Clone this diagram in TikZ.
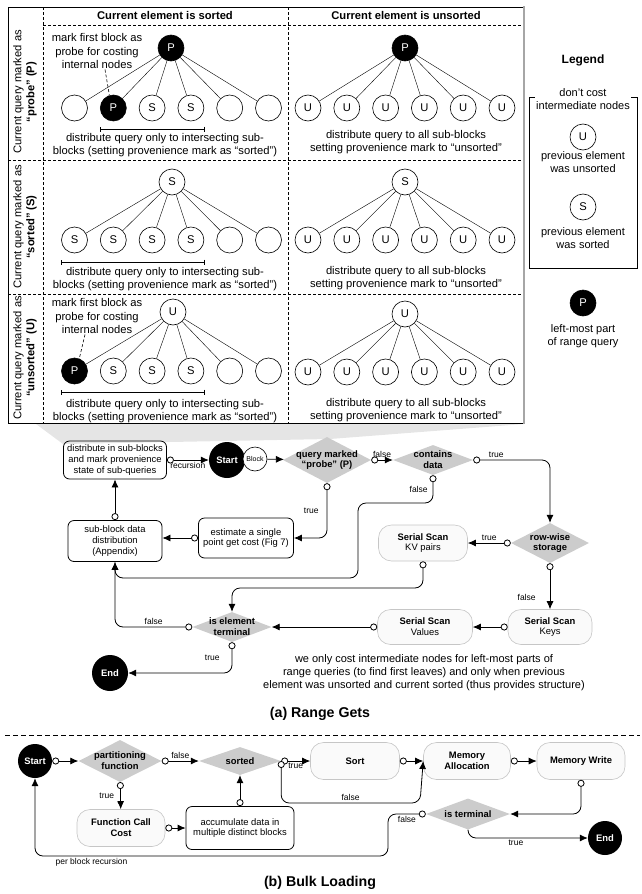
\documentclass[tikz,border=0pt]{standalone}
\usepackage{fontspec}
\setmainfont{Liberation Sans}
\usetikzlibrary{arrows.meta,shapes.geometric,calc}

\newcommand{\tabfont}{\fontsize{11.2}{13.2}\selectfont}
\newcommand{\legfont}{\fontsize{11}{13}\selectfont}
\newcommand{\flowfont}{\fontsize{9.4}{10.8}\selectfont}
\newcommand{\labfont}{\fontsize{8.5}{10}\selectfont}

\begin{document}
\begin{tikzpicture}[
  x=1pt, y=-1pt,
  >={Latex[length=8pt,width=7pt]},
  cell/.style={font=\tabfont, align=center, inner sep=1pt},
  head/.style={font=\tabfont\bfseries, inner sep=1pt},
  sep/.style={dash pattern=on 3pt off 2pt, line width=0.6pt},
  blk/.style={circle, draw, fill=white, line width=0.6pt, minimum size=26pt,
    inner sep=0pt, font=\tabfont},
  blkp/.style={blk, fill=black, text=white},
  span/.style={{Bar[width=5pt]}-{Bar[width=5pt]}, line width=0.6pt},
  box/.style={draw, rounded corners=6pt, line width=0.8pt, align=center,
    font=\flowfont, inner sep=1pt},
  pill/.style={draw=gray!45, fill=gray!4, rounded corners=13pt, line width=0.6pt,
    align=center, font=\flowfont, inner sep=1pt},
  dec/.style={diamond, fill=gray!40, inner sep=0pt},
  dtext/.style={font=\flowfont\bfseries, align=center, inner sep=0pt},
  term/.style={circle, fill=black, text=white, font=\flowfont\bfseries,
    minimum size=36pt, inner sep=0pt},
  lab/.style={font=\labfont, inner sep=2pt},
  arr/.style={->, line width=0.8pt, rounded corners=8pt},
  oarr/.style={{Circle[length=7pt,width=7pt,fill=white]}->, line width=0.8pt,
    rounded corners=8pt},
  title/.style={font=\fontsize{14.2}{16}\selectfont\bfseries}
]
\useasboundingbox (0,0) rectangle (641,894);

% callout below the table
\fill[gray!20] (36,424) -- (524,424) -- (330,439) -- (63,444) -- cycle;

% table frame
\draw[sep] (43,7) -- (43,423);
\draw[sep] (288,7) -- (288,423);
\draw[sep] (43,25) -- (524,25);
\draw[sep] (8,160) -- (524,160);
\draw[sep] (8,294) -- (524,294);
\draw[line width=0.8pt] (8,7) rectangle (524,423);
\draw[line width=1.8pt, gray!70] (524,6) -- (524,424);

\node[head] (hs) at (165,15) {Current element is sorted};
\node[head] (hu) at (406,15) {Current element is unsorted};
\node[cell, rotate=90] (rp) at (25,92) {Current query marked as\\\textbf{“probe” (P)}};
\node[cell, rotate=90] (rs) at (25,227) {Current query marked as\\\textbf{“sorted” (S)}};
\node[cell, rotate=90] (ru) at (25,358) {Current query marked as\\\textbf{“unsorted” (U)}};

% probe row
\node[blkp] (pa) at (171,48) {P};
\foreach \i/\s/\t in {0/blk/{},1/blkp/P,2/blk/S,3/blk/S,4/blk/{},5/blk/{}}
  \node[\s] (pa\i) at (74.5+38.8*\i,108) {\t} edge (pa);
\node[blkp] (pb) at (405,48) {P};
\foreach \i in {0,...,5}
  \node[blk] (pb\i) at (308+38.8*\i,108) {U} edge (pb);
\node[cell] (mk1) at (97,51) {mark first block as\\probe for costing\\internal nodes};
\draw[densely dashed, line width=0.6pt] ([xshift=8pt]mk1.south) -- ([xshift=-4pt]pa1.north);
\draw[span] (pa1.west |- 0,129) -- (pa3.east |- 0,129);
\node[cell] (da1) at (165,145) {distribute query only to intersecting sub-\\blocks (setting provenience mark as “sorted”)};
\node[cell] (db1) at (406,142) {distribute query to all sub-blocks\\setting provenience mark to “unsorted”};

% sorted row
\node[blk] (sa) at (172,182) {S};
\foreach \i/\t in {0/S,1/S,2/S,3/S,4/{},5/{}}
  \node[blk] (sa\i) at (74.5+38.8*\i,240) {\t} edge (sa);
\node[blk] (sb) at (405,182) {S};
\foreach \i in {0,...,5}
  \node[blk] (sb\i) at (308+38.8*\i,240) {U} edge (sb);
\draw[span] (sa0.west |- 0,262) -- (sa3.east |- 0,262);
\node[cell] (da2) at (165,279) {distribute query only to intersecting sub-\\blocks (setting provenience mark as “sorted”)};
\node[cell] (db2) at (406,278) {distribute query to all sub-blocks\\setting provenience mark to “unsorted”};

% unsorted row
\node[blk] (ua) at (173,312) {U};
\foreach \i/\s/\t in {0/blkp/P,1/blk/S,2/blk/S,3/blk/S,4/blk/{},5/blk/{}}
  \node[\s] (ua\i) at (74.5+38.8*\i,371) {\t} edge (ua);
\node[blk] (ub) at (405,314) {U};
\foreach \i in {0,...,5}
  \node[blk] (ub\i) at (308+38.8*\i,372) {U} edge (ub);
\node[cell] (mk3) at (97,316) {mark first block as\\probe for costing\\internal nodes};
\draw[densely dashed, line width=0.6pt] ([xshift=-12pt]mk3.south) -- ([xshift=5pt]ua0.north);
\draw[span] (ua0.west |- 0,392) -- (ua3.east |- 0,392);
\node[cell] (da3) at (165,411) {distribute query only to intersecting sub-\\blocks (setting provenience mark as “sorted”)};
\node[cell] (db3) at (406,410) {distribute query to all sub-blocks\\setting provenience mark to “unsorted”};

% legend
\node[head, font=\fontsize{12}{14}\selectfont\bfseries] (lg) at (583,60) {Legend};
\draw[line width=0.6pt] (529,97) rectangle (637,268);
\node[cell, font=\legfont, fill=white] (lgn) at (583,99) {don't cost\\intermediate nodes};
\node[blk] (lgu) at (583,137) {U};
\node[cell, font=\legfont] (lgut) at (583,162) {previous element\\was unsorted};
\node[blk] (lgs) at (583,207) {S};
\node[cell, font=\legfont] (lgst) at (583,238) {previous element\\was sorted};
\node[blkp] (lgp) at (583,303) {P};
\node[cell, font=\legfont] (lgpt) at (583,336) {left-most part\\of range query};

% (a) range gets
\node[box, minimum width=103pt, minimum height=38pt] (dist) at (115,460)
  {distribute in sub-blocks\\and mark provenience\\state of sub-queries};
\node[term] (st) at (227,460) {Start};
\node[circle, draw, fill=white, line width=0.6pt, minimum size=24pt, inner sep=0pt,
  font=\fontsize{7}{8}\selectfont] (blck) at (255,459) {Block};
\node[dec, minimum width=88pt, minimum height=46pt,
  label={[dtext]center:{query marked\\“probe” (P)}}] (qp) at (327,460) {};
\node[dec, minimum width=80pt, minimum height=30pt,
  label={[dtext]center:{contains\\data}}] (cd) at (433,460) {};
\node[dec, minimum width=78pt, minimum height=40pt,
  label={[dtext]center:{row-wise\\storage}}] (rw) at (550,543) {};
\node[pill, minimum width=89pt, minimum height=36pt] (kv) at (423,543)
  {\textbf{Serial Scan}\\KV pairs};
\node[box, minimum width=95pt, minimum height=40pt] (est) at (246,538)
  {estimate a single\\point get cost (Fig 7)};
\node[box, minimum width=94pt, minimum height=41pt] (sbd) at (115,541)
  {sub-block data\\distribution\\(Appendix)};
\node[dec, minimum width=79pt, minimum height=30pt,
  label={[dtext]center:{is element\\terminal}}] (iet) at (232,627) {};
\node[pill, minimum width=95pt, minimum height=35pt] (sv) at (425,627)
  {\textbf{Serial Scan}\\Values};
\node[pill, minimum width=84pt, minimum height=35pt] (sk) at (550,627)
  {\textbf{Serial Scan}\\Keys};
\node[term] (end) at (110,673) {End};
\node[cell, font=\fontsize{11}{13}\selectfont] (rem) at (424,673)
  {we only cost intermediate nodes for left-most parts of\\range queries (to find first leaves) and only when previous\\element was unsorted and current sorted (thus provides structure)};
\node[title] (ta) at (320,714) {(a) Range Gets};

\draw[oarr] (dist) -- node[lab, below] {recursion} (st);
\draw[arr] (blck) -- (qp);
\draw[oarr] (qp) -- node[lab, above] {false} (cd);
\draw[oarr] (cd.east) -| node[lab, above, pos=0.15] {true} (rw.north);
\draw[oarr] (rw.west) -- node[lab, above] {true} (kv.east);
\draw[oarr] (rw.south) -- node[lab, left=12pt, pos=0.75] {false} (sk.north);
\draw[oarr] (sk.west) -- (sv.east);
\draw[oarr] (sv.west) -- (iet.east);
\draw[oarr] (kv.south) |- (iet.north |- 0,588) -- (iet.north);
\draw[oarr] (cd.south) |- node[lab, left=3pt, pos=0.25] {false} (358,503)
  |- (sbd.south |- 0,578) -- (sbd.south);
\draw[oarr] (qp.south) |- node[lab, left=6pt, pos=0.25] {true} (est.east);
\draw[oarr] (est.west) -- (sbd.east |- est.west);
\draw[oarr] (sbd.north) -- (dist.south);
\draw[oarr] (iet.west) -| node[lab, above, pos=0.25] {false} (sbd.south);
\draw[oarr] (iet.south) |- node[lab, left=10pt, pos=0.25] {true} (end.east);

% (b) bulk loading
\draw[dash pattern=on 5pt off 3pt, line width=0.6pt] (5,735) -- (640,735);
\node[term, minimum size=34pt] (st2) at (35,761) {Start};
\node[dec, minimum width=83pt, minimum height=42pt,
  label={[dtext]center:{partitioning\\function}}] (pf) at (120,761) {};
\node[dec, minimum width=82pt, minimum height=28pt,
  label={[dtext]center:sorted}] (so) at (240,761) {};
\node[pill, minimum width=88pt, minimum height=37pt, font=\flowfont\bfseries] (fcc)
  at (121,828) {Function Call\\Cost};
\node[box, minimum width=108pt, minimum height=43pt] (acc) at (240,828)
  {accumulate data in\\multiple distinct blocks};
\node[pill, minimum width=89pt, minimum height=37pt, font=\flowfont\bfseries] (srt)
  at (355,761) {Sort};
\node[pill, minimum width=87pt, minimum height=37pt, font=\flowfont\bfseries] (ma)
  at (467,761) {Memory\\Allocation};
\node[pill, minimum width=88pt, minimum height=37pt, font=\flowfont\bfseries] (mw)
  at (581,761) {Memory Write};
\node[dec, minimum width=84pt, minimum height=31pt,
  label={[dtext]center:is terminal}] (it) at (468,814) {};
\node[term, minimum size=34pt] (end2) at (605,838) {End};
\node[title] (tb) at (320,883) {(b) Bulk Loading};

\draw[oarr] (st2) -- (pf);
\draw[oarr] (pf) -- node[lab, above] {false} (so);
\draw[oarr] (pf) -- node[lab, left=4pt] {true} (fcc);
\draw[oarr] (fcc) -- (acc);
\draw[oarr] (acc) -- (so);
\draw[oarr] (so.east) -- node[lab, below] {true} (srt.west);
\draw[oarr] (so.east) |- node[lab, above, pos=0.75] {false} (420,803) -- (ma.west);
\draw[oarr] (srt) -- (ma);
\draw[oarr] (ma) -- (mw);
\draw[oarr] (mw.south) |- (it.east);
\draw[oarr] (it.west) -| node[lab, below, pos=0.25] {false} (388,856)
  -| node[lab, below, pos=0.42] {per block recursion} (st2.south);
\draw[arr] (it.south) |- node[lab, below, pos=0.7] {true} (end2.west);
\end{tikzpicture}
\end{document}
